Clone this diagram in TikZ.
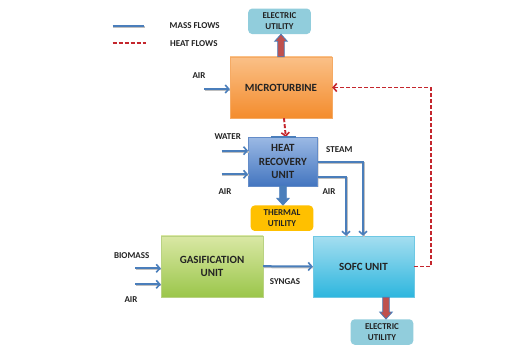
\documentclass[tikz,border=0pt]{standalone}
\usepackage{fontspec}
\setmainfont{Carlito}
\usetikzlibrary{arrows.meta,calc,shadows}
\definecolor{massblue}{RGB}{74,126,187}
\definecolor{heatred}{RGB}{196,38,45}
\definecolor{txt}{RGB}{35,35,35}
\definecolor{eufill}{RGB}{145,205,220}
\definecolor{thfill}{RGB}{255,192,0}
\definecolor{blkred}{RGB}{192,80,77}
\newcommand\blkarrow[3]{%
  \path[#1] let \p1=(#2), \p2=(#3), \n1={(\y2-\y1)/abs(\y2-\y1)} in
    (\x1-3.3pt,\y1) -- (\x1-3.3pt,\y2-\n1*7pt) -- (\x1-6.3pt,\y2-\n1*7pt) -- (\x1,\y2)
    -- (\x1+6.3pt,\y2-\n1*7pt) -- (\x1+3.3pt,\y2-\n1*7pt) -- (\x1+3.3pt,\y1) -- cycle;}
\begin{document}
\begin{tikzpicture}[x=1pt,y=-1pt,
  font=\bfseries, text=txt,
  box/.style={align=center, inner sep=0pt, font=\bfseries\fontsize{11}{13.5}\selectfont,
    drop shadow={opacity=0.25,shadow xshift=1.2pt,shadow yshift=-1.2pt}},
  util/.style={align=center, inner sep=0pt, rounded corners=4pt,
    minimum width=62.6pt, minimum height=25.5pt, font=\bfseries\fontsize{9}{11}\selectfont},
  lbl/.style={font=\bfseries\fontsize{9}{10}\selectfont, inner sep=0pt},
  mass/.style={draw=massblue, line width=2pt,
    -{Straight Barb[length=3.5pt,width=8pt,line width=1.6pt]},
    preaction={draw=black!25, line width=2pt, -, transform canvas={shift={(0.6pt,-1pt)}}}},
  heat/.style={draw=heatred, line width=1.9pt, dash pattern=on 4pt off 2pt,
    -{Straight Barb[length=3.5pt,width=8pt,line width=1.6pt]}},
]
\useasboundingbox (0,0) rectangle (522,350);
\fill[white] (0,0) rectangle (522,350);

% legend
\coordinate (lg1a) at (112.7,26); \coordinate (lg1b) at (144.3,26);
\coordinate (lg2a) at (112.7,43.3); \coordinate (lg2b) at (145.5,43.3);
\draw[black!25, line width=2pt] ([shift={(0.6,1)}]lg1a) -- ([shift={(0.6,1)}]lg1b);
\draw[massblue, line width=2pt] (lg1a) -- (lg1b);
\draw[heatred, line width=1.9pt, dash pattern=on 4pt off 2pt] (lg2a) -- (lg2b);
\node[lbl, anchor=west] (lgm) at (169.5,26) {MASS FLOWS};
\node[lbl, anchor=west] (lgh) at (170,43.3) {HEAT FLOWS};

% boxes
\node[box, minimum width=102pt, minimum height=61pt,
  top color={rgb,255:red,250;green,192;blue,135}, bottom color={rgb,255:red,244;green,140;blue,45},
  draw={rgb,255:red,245;green,170;blue,100}] (mt) at (281,87.5) {MICROTURBINE};
\node[box, minimum width=69pt, minimum height=48.5pt,
  top color={rgb,255:red,155;green,185;blue,228}, bottom color={rgb,255:red,68;green,118;blue,192},
  draw={rgb,255:red,100;green,140;blue,200}] (hru) at (282.8,161.5) {HEAT\\RECOVERY\\UNIT};
\node[box, minimum width=102pt, minimum height=61pt,
  top color={rgb,255:red,218;green,232;blue,165}, bottom color={rgb,255:red,155;green,198;blue,75},
  draw={rgb,255:red,185;green,210;blue,130}] (gas) at (212,266.2) {GASIFICATION\\UNIT};
\node[box, minimum width=101pt, minimum height=61pt,
  top color={rgb,255:red,165;green,222;blue,240}, bottom color={rgb,255:red,45;green,182;blue,222},
  draw={rgb,255:red,110;green,200;blue,228}] (sofc) at (363.5,266.5) {SOFC UNIT};

\node[util, fill=eufill] (eu1) at (279.5,21.3) {ELECTRIC\\UTILITY};
\node[util, fill=thfill] (tu) at (282,218.2) {THERMAL\\UTILITY};
\node[util, fill=eufill] (eu2) at (382,332) {ELECTRIC\\UTILITY};

% block arrows
\blkarrow{fill=blkred, draw=massblue, line width=0.8pt}{mt.north}{eu1.south}
\blkarrow{fill=massblue, draw=massblue, line width=0.6pt}{[xshift=0.2pt]hru.south}{[xshift=0.2pt]hru.south |- tu.north}
\blkarrow{fill=blkred, draw=massblue, line width=0.8pt}{[xshift=22.5pt]sofc.south}{[xshift=22.5pt]sofc.south |- eu2.north}

% microturbine inputs
\coordinate (air1) at (204,89);
\draw[mass] (air1) -- (air1 -| mt.west);
\node[lbl] (air1l) at (199,76) {AIR};

% heat flows
\draw[heat] (sofc.east) -- ++(16.5,0) |- (mt.east);
\draw[heat] ([xshift=3pt]mt.south) -- ([xshift=3pt]hru.north);
\draw[massblue, line width=1.8pt] ([xshift=-12pt]hru.north) -- ([xshift=13pt]hru.north);

% HRU inputs
\coordinate (wat) at (221.7,150.7);
\coordinate (air2) at (221.7,174.3);
\draw[mass] (wat) -- (wat -| hru.west);
\draw[mass] (air2) -- (air2 -| hru.west);
\node[lbl] (watl) at (227.7,136.7) {WATER};
\node[lbl] (air2l) at (225,191.7) {AIR};

% HRU outputs
\coordinate (stm) at (0,162.3);
\coordinate (air3) at (0,176.7);
\draw[mass] (stm -| hru.east) -| ([xshift=-0.5pt]sofc.north);
\draw[mass] (air3 -| hru.east) -| ([xshift=-17.5pt]sofc.north);
\node[lbl] (stml) at (339.3,150) {STEAM};
\node[lbl] (air3l) at (329,191.7) {AIR};

% gasification inputs
\coordinate (bio) at (135,268.3);
\coordinate (air4) at (135,284.3);
\draw[mass] (bio) -- (bio -| gas.west);
\draw[mass] (air4) -- (air4 -| gas.west);
\node[lbl] (biol) at (131.7,255.7) {BIOMASS};
\node[lbl] (air4l) at (131,300) {AIR};

% syngas
\draw[mass] (gas.east) -- (sofc.west);
\node[lbl] (syn) at (285,282) {SYNGAS};
\end{tikzpicture}
\end{document}
